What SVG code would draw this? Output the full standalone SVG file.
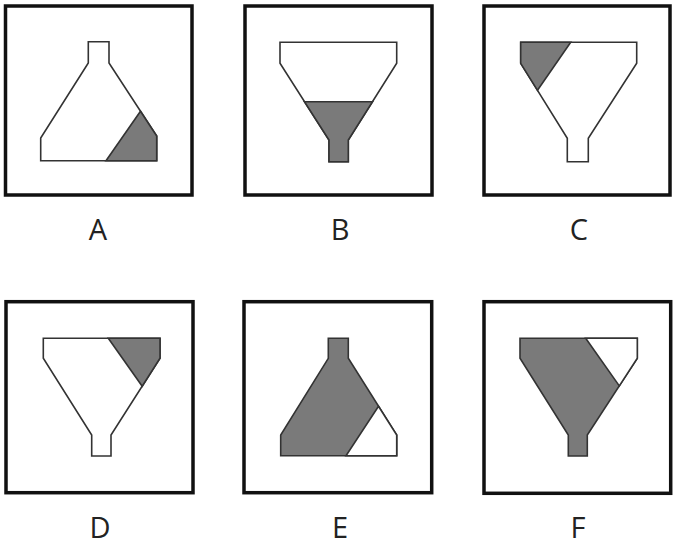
<svg xmlns="http://www.w3.org/2000/svg" width="674" height="550" viewBox="0 0 674 550">
<style>
.box{fill:#fff;stroke:#111;stroke-width:3.5}
.sh{fill:#fff;stroke:#333;stroke-width:1.6;stroke-linejoin:miter}
.g{fill:#7a7a7a;stroke:#333;stroke-width:1.6}
.w{fill:#fff;stroke:#333;stroke-width:1.6}
.lbl{font-family:"Open Sans","Noto Sans",sans-serif;font-size:29px;fill:#222;text-anchor:middle}
</style>
<rect width="674" height="550" fill="#fff"/>
<g id="A">
<rect class="box" x="5.5" y="6" width="186.5" height="189"/>
<polygon class="sh" points="88.3,41.7 109,41.7 109,63 156.7,136 156.7,160.7 40.7,160.7 40.7,138 88.3,63"/>
<polygon class="g" points="106,160.7 156.7,160.7 156.7,136 140.5,111.2"/>
<text class="lbl" x="98" y="240">A</text>
</g>
<g id="B">
<rect class="box" x="245" y="6" width="187" height="189"/>
<polygon class="sh" points="280,42.3 396.7,42.3 396.7,63.3 348.3,140 348.3,161.7 329,161.7 329,140 280,63.3"/>
<polygon class="g" points="304.5,101.7 372.5,101.7 348.3,140 348.3,161.7 329,161.7 329,140"/>
<text class="lbl" x="340" y="240">B</text>
</g>
<g id="C">
<rect class="box" x="484" y="6" width="186" height="189"/>
<polygon class="sh" points="520.7,42.3 636.7,42.3 636.7,63.3 588.3,138.3 588.3,161.7 567.3,161.7 567.3,138.3 520.7,63.3"/>
<polygon class="g" points="520.7,42.3 570.7,42.3 537.5,90.3 520.7,63.3"/>
<text class="lbl" x="579" y="240">C</text>
</g>
<g id="D">
<rect class="box" x="6" y="301.7" width="187" height="191"/>
<polygon class="sh" points="43.3,338.3 160,338.3 160,358.3 111,435 111,456 91.7,456 91.7,435 43.3,358.3"/>
<polygon class="g" points="108.3,338.3 160,338.3 160,358.3 142.2,386.2"/>
<text class="lbl" x="100" y="538">D</text>
</g>
<g id="E">
<rect class="box" x="244" y="301.7" width="187.7" height="191"/>
<polygon class="g" points="328.3,338.3 348.3,338.3 348.3,358.3 396.7,435 396.7,455.7 280.7,455.7 280.7,435 328.3,358.3"/>
<polygon class="w" points="346,455.7 396.7,455.7 396.7,435 378.5,406.2"/>
<text class="lbl" x="340" y="538">E</text>
</g>
<g id="F">
<rect class="box" x="484" y="301.7" width="186.7" height="191.6"/>
<polygon class="g" points="520,338.3 637.3,338.3 637.3,358.3 587.3,435 587.3,456 568.3,456 568.3,435 520,358.3"/>
<polygon class="w" points="585.7,338.3 637.3,338.3 637.3,358.3 619.3,385.9"/>
<text class="lbl" x="578" y="538">F</text>
</g>
</svg>
